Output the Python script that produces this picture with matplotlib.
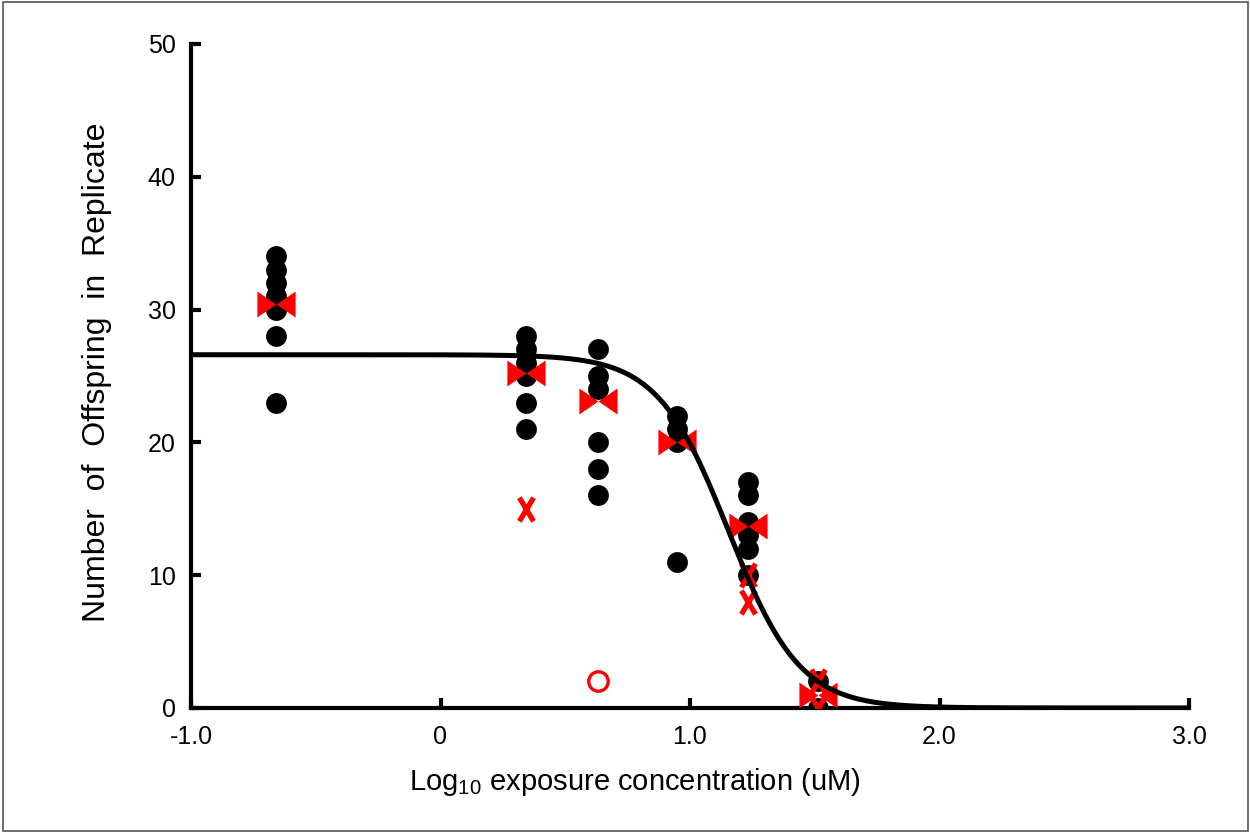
"""
Courbe dose-réponse : nombre de descendants par réplicat
en fonction du log10 de la concentration d'exposition.
"""
import numpy as np
import matplotlib
matplotlib.use("Agg")
import matplotlib.pyplot as plt
from matplotlib.path import Path
from matplotlib.patches import Rectangle

# Concentrations (log10 uM) des groupes d'exposition
log_conc = [-0.66, 0.343, 0.631, 0.948, 1.232, 1.513]

# Réplicats retenus (points noirs) pour chaque groupe
replicates = [
    [34, 33, 32, 31, 30, 28, 23],
    [28, 27, 26, 25, 23, 21],
    [27, 25, 24, 20, 18, 16],
    [22, 21, 20, 11],
    [17, 16, 14, 13, 12, 10],
    [2, 0],
]

# Moyennes par groupe (noeuds papillon rouges)
group_means = [30.4, 25.25, 23.1, 20.05, 13.7, 1.0]

# Valeurs marquées d'une croix rouge
cross_x = [0.343, 1.232, 1.232, 1.513, 1.513]
cross_y = [15, 10, 8, 2, 0]

# Valeur aberrante (cercle rouge)
outlier_x = [0.631]
outlier_y = [2]

# Paramètres de la courbe log-logistique ajustée
fit_top = 26.6
fit_log_ec50 = 1.155
fit_slope = 3.05

x_ticks = [-1.0, 0.0, 1.0, 2.0, 3.0]
x_tick_labels = ["-1.0", "0", "1.0", "2.0", "3.0"]
y_ticks = [0, 10, 20, 30, 40, 50]

FONT = ["Liberation Sans", "DejaVu Sans"]


def bowtie_marker() -> Path:
    """Construit un marqueur en forme de noeud papillon."""
    verts = [(-1, -0.68), (0, 0), (-1, 0.68), (-1, -0.68),
             (1, -0.68), (0, 0), (1, 0.68), (1, -0.68)]
    codes = [Path.MOVETO, Path.LINETO, Path.LINETO, Path.CLOSEPOLY] * 2
    return Path(verts, codes)


def cross_marker() -> Path:
    """Construit un marqueur en X étroit (deux diagonales)."""
    verts = [(-0.3, -0.5), (0.3, 0.5), (-0.3, 0.5), (0.3, -0.5)]
    codes = [Path.MOVETO, Path.LINETO, Path.MOVETO, Path.LINETO]
    return Path(verts, codes)


def main():
    plt.rcParams["font.family"] = FONT
    plt.rcParams["mathtext.default"] = "regular"

    fig = plt.figure(figsize=(12.5, 8.33), dpi=100)
    # Cadre gris autour de la figure
    fig.patches.append(Rectangle((0.002, 0.002), 0.996, 0.995,
                                 transform=fig.transFigure, fill=False,
                                 edgecolor="#555555", linewidth=1.2))

    ax = fig.add_axes([0.1528, 0.1501, 0.7984, 0.7971])

    # Points des réplicats
    for xc, vals in zip(log_conc, replicates):
        ax.plot([xc] * len(vals), vals, "o", color="black",
                markersize=15, markeredgewidth=0, zorder=3)

    # Moyennes
    ax.plot(log_conc, group_means, linestyle="none", marker=bowtie_marker(),
            color="red", markersize=27.5, markeredgewidth=0, zorder=4)

    # Croix et cercle
    ax.plot(cross_x, cross_y, linestyle="none", marker=cross_marker(),
            markerfacecolor="none", markeredgecolor="red",
            markersize=17, markeredgewidth=3.8, zorder=4)
    ax.plot(outlier_x, outlier_y, "o", markerfacecolor="none",
            markeredgecolor="red", markersize=14, markeredgewidth=2.4,
            zorder=4)

    # Courbe ajustée
    xs = np.linspace(-1.0, 3.0, 400)
    ys = fit_top / (1 + 10 ** (fit_slope * (xs - fit_log_ec50)))
    ax.plot(xs, ys, color="black", linewidth=3.6, zorder=5,
            solid_capstyle="butt")

    ax.set_xlim(-1.0, 3.0)
    ax.set_ylim(0, 50)
    ax.set_xticks(x_ticks)
    ax.set_xticklabels(x_tick_labels)
    ax.set_yticks(y_ticks)

    for side in ("top", "right"):
        ax.spines[side].set_visible(False)
    for side in ("left", "bottom"):
        ax.spines[side].set_linewidth(3)
        ax.spines[side].set_capstyle("projecting")

    ax.tick_params(direction="in", length=7, width=3, labelsize=18)
    ax.tick_params(axis="x", pad=12)
    ax.tick_params(axis="y", pad=11)

    fig.text(635 / 1250, 1 - 782 / 833,
             "Log$_{10}$ exposure concentration (uM)",
             ha="center", va="center", fontsize=21)
    fig.text(97 / 1250, 1 - 372 / 833,
             "Number  of  Offspring  in  Replicate",
             ha="center", va="center", rotation=90, fontsize=23)

    fig.savefig("out.png", dpi=100)


if __name__ == "__main__":
    main()
